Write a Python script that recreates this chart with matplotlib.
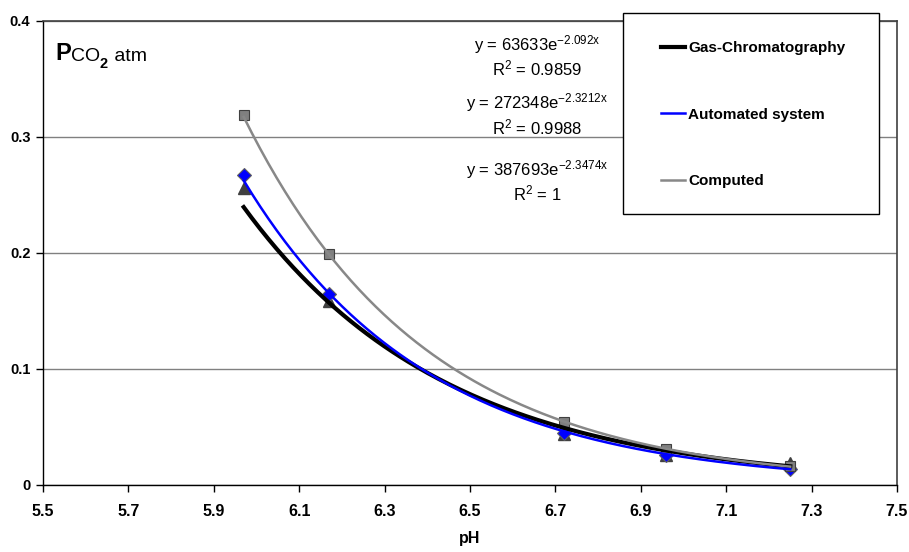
import numpy as np
import matplotlib.pyplot as plt
from matplotlib.patches import Rectangle

plt.rcParams['font.family'] = ['Liberation Sans', 'DejaVu Sans']
plt.rcParams['mathtext.fontset'] = 'custom'
plt.rcParams['mathtext.rm'] = 'Liberation Sans'
plt.rcParams['mathtext.it'] = 'Liberation Sans:italic'
plt.rcParams['mathtext.bf'] = 'Liberation Sans:bold'

# data
ph = [5.97, 6.17, 6.72, 6.96, 7.25]
gas_chrom = [0.256, 0.159, 0.044, 0.026, 0.019]
automated = [0.267, 0.165, 0.045, 0.026, 0.014]
computed = [0.319, 0.199, 0.054, 0.031, 0.016]

series_names = ['Gas-Chromatography', 'Automated system', 'Computed']
eq_lines = ['y = 63633e$^{\\mathrm{-2.092x}}$', 'R$^{\\mathrm{2}}$ = 0.9859',
            'y = 272348e$^{\\mathrm{-2.3212x}}$', 'R$^{\\mathrm{2}}$ = 0.9988',
            'y = 387693e$^{\\mathrm{-2.3474x}}$', 'R$^{\\mathrm{2}}$ = 1']
eq_y = [0.3793, 0.3595, 0.3293, 0.3086, 0.2716, 0.2517]

x_ticks = [5.5, 5.7, 5.9, 6.1, 6.3, 6.5, 6.7, 6.9, 7.1, 7.3, 7.5]
y_ticks = [0, 0.1, 0.2, 0.3, 0.4]


def exp_fit(x, y):
    # exponential trendline like excel: fit ln(y) = ln(a) + b*x
    b, ln_a = np.polyfit(x, np.log(y), 1)
    xs = np.linspace(min(x), max(x), 200)
    return xs, np.exp(ln_a) * np.exp(b * xs)


fig = plt.figure(figsize=(9.09, 5.52), dpi=100)
ax = fig.add_axes([0.0473, 0.1214, 0.9395, 0.8406])

# markers first, trendlines drawn over them
ax.plot(ph, gas_chrom, linestyle='none', marker='^', markersize=8,
        color='#404040', markeredgecolor='#404040', zorder=3)
ax.plot(ph, automated, linestyle='none', marker='D', markersize=7,
        color='#0000ff', markeredgecolor='#606060', markeredgewidth=0.8, zorder=3)
ax.plot(ph, computed, linestyle='none', marker='s', markersize=7,
        color='#808080', markeredgecolor='#404040', markeredgewidth=0.8, zorder=3)

xs, ys = exp_fit(ph, gas_chrom)
ax.plot(xs, ys, color='black', linewidth=3, label=series_names[0], zorder=4)
xs, ys = exp_fit(ph, automated)
ax.plot(xs, ys, color='#0000ff', linewidth=1.8, label=series_names[1], zorder=5)
xs, ys = exp_fit(ph, computed)
ax.plot(xs, ys, color='#888888', linewidth=1.8, label=series_names[2], zorder=4)

ax.set_xlim(5.5, 7.5)
ax.set_ylim(0, 0.4)
ax.set_xticks(x_ticks)
ax.set_xticklabels([f'{v:.1f}' for v in x_ticks])
ax.set_yticks(y_ticks)
ax.set_yticklabels(['0', '0.1', '0.2', '0.3', '0.4'])
ax.tick_params(direction='out', length=5, width=1)
ax.tick_params(axis='x', labelsize=11.5, pad=9)
ax.tick_params(axis='y', labelsize=10.5, pad=4)
for lab in ax.get_xticklabels() + ax.get_yticklabels():
    lab.set_fontweight('bold')
ax.set_xlabel('pH', fontsize=11.5, fontweight='bold', labelpad=8)

ax.grid(axis='y', color='#808080', linewidth=1)
ax.set_axisbelow(True)
for side in ['top', 'right']:
    ax.spines[side].set_color('#404040')
    ax.spines[side].set_linewidth(1.2)
for side in ['left', 'bottom']:
    ax.spines[side].set_color('black')
    ax.spines[side].set_linewidth(1)

# equation labels
for txt, yy in zip(eq_lines, eq_y):
    ax.text(6.657, yy, txt, ha='center', va='center', fontsize=12)

# Pco2 atm label
t1 = ax.text(0.014, 0.915, 'P', transform=ax.transAxes, fontsize=17,
             fontweight='bold', va='baseline')
t2 = ax.annotate('CO', xy=(1, 0), xycoords=t1, fontsize=14,
                 va='bottom', ha='left')
t3 = ax.annotate('2', xy=(1, 0), xycoords=t2, xytext=(0, -4),
                 textcoords='offset points', fontsize=10.5, fontweight='bold',
                 va='bottom', ha='left')
ax.annotate(' atm', xy=(1, 0), xycoords=t2, xytext=(6.5, 0),
            textcoords='offset points', fontsize=14, va='bottom', ha='left')

# legend box drawn separately so its padding can match the original
box = Rectangle((0.6854, 0.6123), 0.2816, 0.3641, transform=fig.transFigure,
                facecolor='white', edgecolor='black', linewidth=1, zorder=9)
fig.patches.append(box)
leg = fig.legend(*ax.get_legend_handles_labels(), loc='upper left',
                 bbox_to_anchor=(0.7272, 0.9250), fontsize=11,
                 frameon=False, borderpad=0, labelspacing=3.42,
                 handlelength=1.57, handletextpad=0.2, borderaxespad=0)
for t in leg.get_texts():
    t.set_fontweight('bold')
leg.set_zorder(10)

fig.savefig('out.png', dpi=100)
